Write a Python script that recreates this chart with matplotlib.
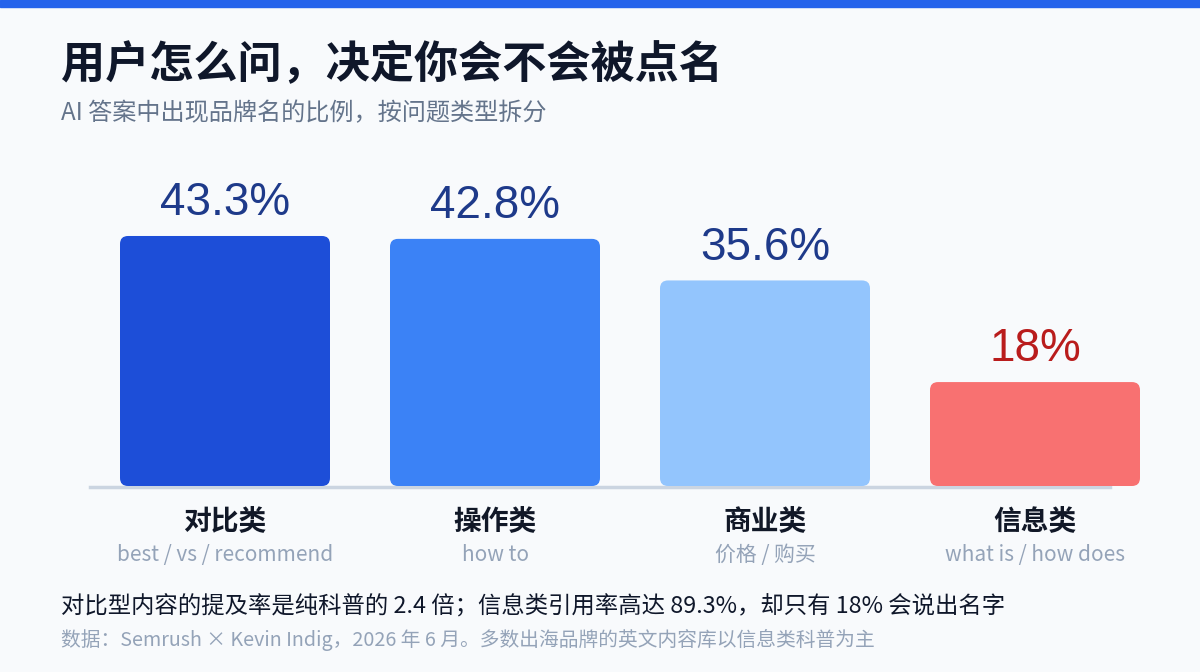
import matplotlib
matplotlib.use("Agg")
import matplotlib.pyplot as plt
from matplotlib.patches import FancyBboxPatch, Rectangle

plt.rcParams['font.family'] = ['Noto Sans CJK SC', 'DejaVu Sans']

categories = ["对比类", "操作类", "商业类", "信息类"]
sublabels = ["best / vs / recommend", "how to", "价格 / 购买", "what is / how does"]
values = [43.3, 42.8, 35.6, 18]
value_labels = ["43.3%", "42.8%", "35.6%", "18%"]
bar_colors = ["#1D4ED8", "#3B82F6", "#93C5FD", "#F87171"]
label_colors = ["#1E3A8A", "#1E3A8A", "#1E3A8A", "#B91C1C"]

W, H = 1200, 672
fig = plt.figure(figsize=(12, 6.72), dpi=100)
fig.patch.set_facecolor("#F8FAFC")

# top stripe
fig.patches.append(Rectangle((0, 1 - 7 / H), 1, 7 / H, transform=fig.transFigure,
                             color="#2563EB", zorder=0))

def px(x, y):
    return x / W, 1 - y / H

# axes: x from 90 to 1170 px, y baseline at 486 px, 0..50 range
ax_left, ax_right = 90, 1170
base_y = 486
ppu = 5.774  # pixels per percent
ymax = 50
ax = fig.add_axes([ax_left / W, 1 - base_y / H, (ax_right - ax_left) / W, ymax * ppu / H])
ax.set_xlim(-0.5, 3.5)
ax.set_ylim(0, ymax)
ax.axis("off")
ax.patch.set_alpha(0)

bar_w = 210 / 270
xunit = (ax_right - ax_left) / 4
r = 8 / xunit
for i, v in enumerate(values):
    p = FancyBboxPatch((i - bar_w / 2, 0), bar_w, v,
                       boxstyle=f"round,pad=0,rounding_size={r}",
                       mutation_aspect=xunit / ppu,
                       facecolor=bar_colors[i], edgecolor="none", zorder=3)
    ax.add_patch(p)
    ax.annotate(value_labels[i], (i, v), xytext=(0, 15), textcoords="offset points",
                ha="center", va="baseline", fontsize=33, family="Liberation Sans",
                color=label_colors[i], zorder=4)

# baseline
ax.axhline(-0.15, xmin=0, xmax=(1110 - ax_left) / (ax_right - ax_left),
           color="#CBD5E1", lw=2.5, zorder=2, clip_on=False)

for i, (c, s) in enumerate(zip(categories, sublabels)):
    xc = ax_left + xunit * (i + 0.5)
    fig.text(*px(xc, 521), c, ha="center", va="center", fontsize=20,
             fontweight="bold", color="#111827")
    fig.text(*px(xc, 555), s, ha="center", va="center", fontsize=15,
             color="#94A3B8")

fig.text(*px(61, 64), "用户怎么问，决定你会不会被点名", ha="left", va="center",
         fontsize=31.8, fontweight="bold", color="#0F172A")
fig.text(*px(61, 113), "AI 答案中出现品牌名的比例，按问题类型拆分", ha="left", va="center",
         fontsize=17.4, fontweight="medium", color="#64748B")
fig.text(*px(61, 607), "对比型内容的提及率是纯科普的 2.4 倍；信息类引用率高达 89.3%，却只有 18% 会说出名字",
         ha="left", va="center", fontsize=16.8, fontweight="medium", color="#0F172A")
fig.text(*px(61, 640), "数据：Semrush × Kevin Indig，2026 年 6 月。多数出海品牌的英文内容库以信息类科普为主",
         ha="left", va="center", fontsize=14.2, color="#94A3B8")

fig.savefig("out.png", dpi=100, facecolor=fig.get_facecolor())
